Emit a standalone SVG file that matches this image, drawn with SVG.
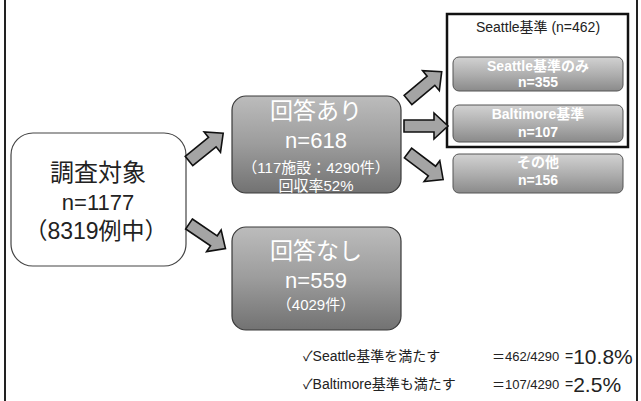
<svg xmlns="http://www.w3.org/2000/svg" xmlns:xlink="http://www.w3.org/1999/xlink" width="641" height="401" viewBox="0 0 641 401">
<defs>
<linearGradient id="gBig" x1="0" y1="0" x2="0" y2="1">
<stop offset="0" stop-color="#bcbcbc"/>
<stop offset="0.5" stop-color="#9c9c9c"/>
<stop offset="1" stop-color="#727272"/>
</linearGradient>
<linearGradient id="gSmall" x1="0" y1="0" x2="0" y2="1">
<stop offset="0" stop-color="#d2d2d2"/>
<stop offset="0.55" stop-color="#acacac"/>
<stop offset="1" stop-color="#8a8a8a"/>
</linearGradient>
<path id="arr" d="M0,-6 L30,-6 L30,-13 L44,0 L30,13 L30,6 L0,6 Z"/>
</defs>
<style>
text{font-family:"Liberation Sans","Noto Sans CJK JP",sans-serif;text-anchor:middle;dominant-baseline:central}
.frame{stroke:#222;stroke-width:2;fill:none}
.big{fill:url(#gBig);stroke:#3a3a3a;stroke-width:1.2}
.small{fill:url(#gSmall);stroke:#555;stroke-width:1}
.w{fill:#fff}
.wb{fill:#fff;font-weight:bold}
.dk{fill:#222}
.arrow{fill:#a4a4a4;stroke:#111;stroke-width:1.6;stroke-linejoin:miter}
.note{text-anchor:start;fill:#222}
</style>
<line class="frame" x1="5" y1="0" x2="5" y2="401"/>
<line class="frame" x1="637" y1="0" x2="637" y2="401"/>

<g id="node-target">
<rect x="11" y="133" width="175" height="133" rx="22" fill="#fff" stroke="#444" stroke-width="1.2"/>
<text class="dk" x="98" y="172" font-size="24">調査対象</text>
<text class="dk" x="98" y="202" font-size="22">n=1177</text>
<text class="dk" x="96" y="231" font-size="23">（8319例中）</text>
</g>

<g id="node-answered">
<rect class="big" x="232" y="96" width="169" height="97" rx="14"/>
<text class="w" x="316" y="111" font-size="23">回答あり</text>
<text class="w" x="316" y="140" font-size="22">n=618</text>
<text class="w" x="316" y="167" font-size="15">（117施設：4290件）</text>
<text class="w" x="316" y="185" font-size="15">回収率52%</text>
</g>

<g id="node-noanswer">
<rect class="big" x="232" y="227" width="169" height="103" rx="14"/>
<text class="w" x="316" y="251" font-size="23">回答なし</text>
<text class="w" x="316" y="280" font-size="22">n=559</text>
<text class="w" x="316" y="304" font-size="15">（4029件）</text>
</g>

<g id="node-seattle-group">
<rect x="447" y="14" width="181" height="133" fill="#fff" stroke="#111" stroke-width="2.5"/>
<text class="dk" x="538" y="27" font-size="14">Seattle基準 (n=462)</text>
</g>

<g id="node-seattle-only">
<rect class="small" x="453" y="57" width="170" height="34" rx="6"/>
<text class="wb" x="538" y="66" font-size="14">Seattle基準のみ</text>
<text class="wb" x="538" y="82" font-size="14">n=355</text>
</g>

<g id="node-baltimore">
<rect class="small" x="453" y="105" width="170" height="37" rx="6"/>
<text class="wb" x="538" y="114" font-size="14">Baltimore基準</text>
<text class="wb" x="538" y="132" font-size="14">n=107</text>
</g>

<g id="node-other">
<rect class="small" x="453" y="154" width="170" height="39" rx="6"/>
<text class="wb" x="538" y="162" font-size="14">その他</text>
<text class="wb" x="538" y="180" font-size="14">n=156</text>
</g>

<g id="connectors">
<use class="arrow" xlink:href="#arr" href="#arr" transform="translate(189,161) rotate(-39)"/>
<use class="arrow" xlink:href="#arr" href="#arr" transform="translate(189,224) rotate(34)"/>
<use class="arrow" xlink:href="#arr" href="#arr" transform="translate(408,100) rotate(-40)"/>
<use class="arrow" xlink:href="#arr" href="#arr" transform="translate(404,126)"/>
<use class="arrow" xlink:href="#arr" href="#arr" transform="translate(408,153) rotate(37)"/>
</g>

<g id="notes">
<text class="note" x="303" y="356" font-size="14">✓Seattle基準を満たす</text>
<text class="note" x="492" y="356" font-size="13">＝462/4290</text>
<text class="note" x="565" y="356" font-size="14">=<tspan font-size="21">10.8%</tspan></text>
<text class="note" x="303" y="384" font-size="14">✓Baltimore基準も満たす</text>
<text class="note" x="492" y="384" font-size="13">＝107/4290</text>
<text class="note" x="565" y="384" font-size="14">=<tspan font-size="21">2.5%</tspan></text>
</g>
</svg>
